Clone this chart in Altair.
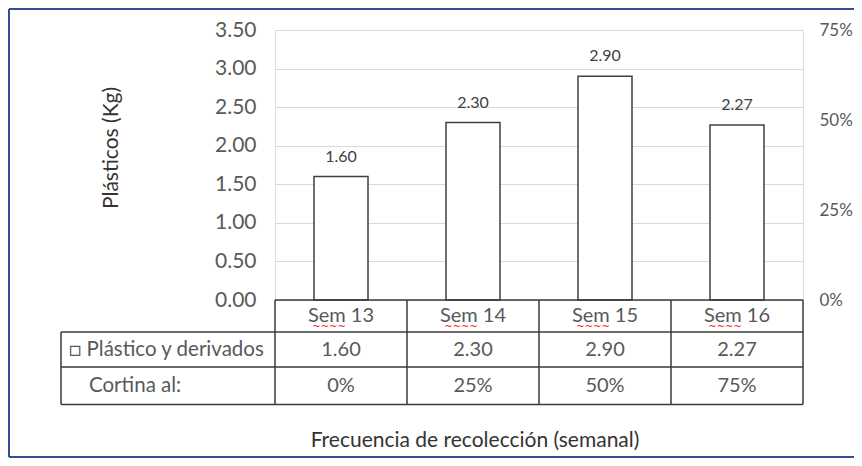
import altair as alt
import pandas as pd

categories = ["Sem 13", "Sem 14", "Sem 15", "Sem 16"]
plasticos = [1.60, 2.30, 2.90, 2.27]
cortina = ["0%", "25%", "50%", "75%"]
left_ticks = [0, 0.5, 1.0, 1.5, 2.0, 2.5, 3.0, 3.5]
right_ticks = [0, 0.25, 0.5, 0.75]
row_labels = ["\u25a1 Plástico y derivados", "Cortina al:"]
y_title = "Plásticos (Kg)"
x_title = "Frecuencia de recolección (semanal)"

FONT = "Lato"
W, H = 528, 270

df = pd.DataFrame({"cat": categories, "val": plasticos, "cort": cortina,
                   "lab": [f"{v:.2f}" for v in plasticos],
                   "wave": ["~~~~"] * len(categories)})

xenc = alt.X("cat:N", sort=categories,
             scale=alt.Scale(paddingInner=0, paddingOuter=0),
             axis=None)

yaxis = alt.Axis(values=left_ticks, format=".2f", orient="left",
                 domain=False, ticks=False, labelPadding=19,
                 labelOverlap=False,
                 labelFont=FONT, labelFontSize=21,
                 labelColor="#595959", gridColor="#D9D9D9",
                 gridWidth=1, title=None)
yenc = alt.Y("val:Q", scale=alt.Scale(domain=[0, 3.5]), axis=yaxis)

bars = alt.Chart(df).mark_bar(size=54, fill="white", stroke="#404040",
                              strokeWidth=1.5).encode(x=xenc, y=yenc)

labels = alt.Chart(df).mark_text(font=FONT, fontSize=16, color="#404040",
                                 dy=-20, baseline="middle").encode(
    x=xenc, y=yenc, text="lab:N")

# data table text
hdr = alt.Chart(df).mark_text(font=FONT, fontSize=20, color="#595959",
                              baseline="middle").encode(
    x=xenc, y=alt.value(286), text="cat:N")
wave = alt.Chart(df).mark_text(font="DejaVu Sans", fontSize=10, color="#FF2020",
                               baseline="middle", dx=-12).encode(
    x=xenc, y=alt.value(297), text="wave:N")
row1 = alt.Chart(df).mark_text(font=FONT, fontSize=20, color="#595959",
                               baseline="middle").encode(
    x=xenc, y=alt.value(319.5), text="lab:N")
row2 = alt.Chart(df).mark_text(font=FONT, fontSize=20, color="#595959",
                               baseline="middle").encode(
    x=xenc, y=alt.value(356), text="cort:N")

rl = pd.DataFrame({"t": row_labels, "px": [-206, -186], "py": [319.5, 356]})
rowlab = alt.Chart(rl).mark_text(font=FONT, fontSize=20.5, color="#595959",
                                 baseline="middle", align="left").encode(
    x=alt.X("px:Q", scale=None), y=alt.Y("py:Q", scale=None), text="t:N")

# table grid lines (pixels)
segs = pd.DataFrame({
    "x1": [0, -214, -214, -214, -214, 0, 132, 264, 396, 528],
    "x2": [528, 528, 528, 528, -214, 0, 132, 264, 396, 528],
    "y1": [270, 302, 337, 374.5, 302, 270, 270, 270, 270, 270],
    "y2": [270, 302, 337, 374.5, 374.5, 374.5, 374.5, 374.5, 374.5, 374.5],
})
grid = alt.Chart(segs).mark_rule(color="#3a3a3a", strokeWidth=1.5).encode(
    x=alt.X("x1:Q", scale=None), x2="x2:Q",
    y=alt.Y("y1:Q", scale=None), y2="y2:Q")

# outer border
bord = pd.DataFrame({
    "x1": [-266, -266, -266],
    "x2": [600, -266, 600],
    "y1": [-21, -21, 427],
    "y2": [-21, 427, 427],
})
border = alt.Chart(bord).mark_rule(color="#2F528F", strokeWidth=2).encode(
    x=alt.X("x1:Q", scale=None), x2="x2:Q",
    y=alt.Y("y1:Q", scale=None), y2="y2:Q")

titles = pd.DataFrame({"t": [x_title], "px": [200], "py": [411]})
xt = alt.Chart(titles).mark_text(font=FONT, fontSize=21, color="#333333",
                                 baseline="middle").encode(
    x=alt.X("px:Q", scale=None), y=alt.Y("py:Q", scale=None), text="t:N")
yt_df = pd.DataFrame({"t": [y_title], "px": [-163], "py": [118]})
yt = alt.Chart(yt_df).mark_text(font=FONT, fontSize=21, color="#333333",
                                baseline="middle", angle=270).encode(
    x=alt.X("px:Q", scale=None), y=alt.Y("py:Q", scale=None), text="t:N")

left = alt.layer(bars, labels, hdr, wave, row1, row2, rowlab, grid, border, xt, yt)

rdf = pd.DataFrame({"p": right_ticks})
right = alt.Chart(rdf).mark_point(opacity=0).encode(
    y=alt.Y("p:Q", scale=alt.Scale(domain=[0, 0.75]),
            axis=alt.Axis(values=right_ticks, format=".0%", orient="right",
                          domain=False, ticks=False, grid=False,
                          labelOverlap=False,
                          labelPadding=16, labelFont=FONT, labelFontSize=17,
                          labelColor="#595959", labelAlign="left", title=None)))

chart = alt.layer(left, right).resolve_scale(y="independent").properties(
    width=W, height=H,
    autosize=alt.AutoSizeParams(type="none"),
    padding={"left": 267, "top": 22, "right": 51, "bottom": 158},
).configure_view(stroke=None).configure(background="white")

chart.save("out.html", embed_options={"renderer": "svg", "actions": False})
